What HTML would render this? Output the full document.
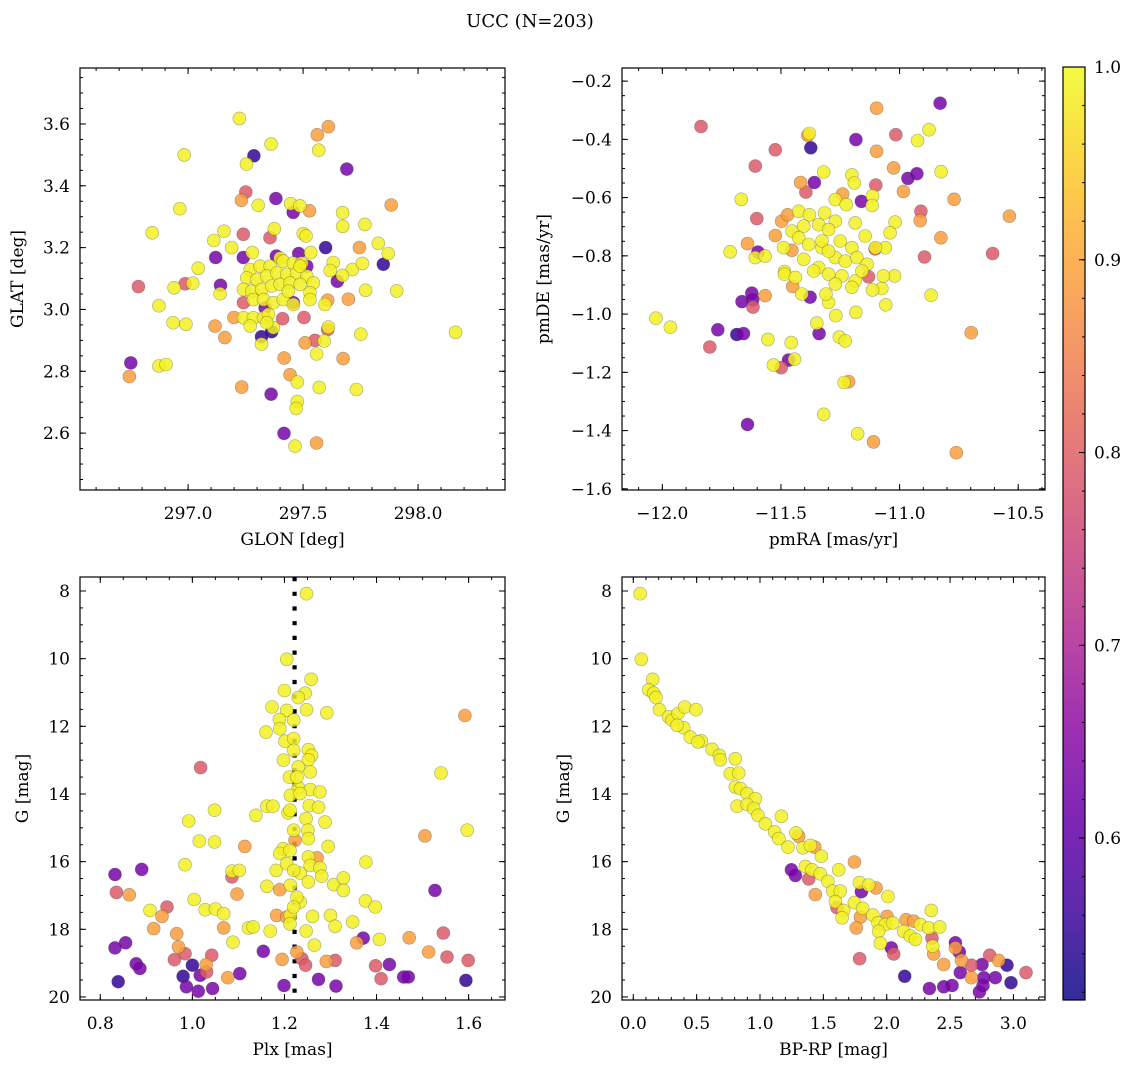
<!DOCTYPE html>
<html><head><meta charset="utf-8"><title>UCC (N=203)</title>
<style>
html,body{margin:0;padding:0;background:#fff;}
svg{display:block;font-family:"DejaVu Serif","Liberation Serif",serif;}
</style></head>
<body>
<svg id="fig" width="1136" height="1067" viewBox="0 0 1136 1067" xmlns="http://www.w3.org/2000/svg">
<text x="530" y="27" font-size="18" text-anchor="middle" fill="#000">UCC (N=203)</text>
</svg>
<script>
// ---------- Panel A: GLON vs GLAT ----------
const glonA = [297.223,297.610,297.562,297.361,297.286,297.568,297.254,296.983,297.690,297.251,297.232,297.382,297.305,297.446,297.486,297.457,297.528,296.964,297.883,297.672,297.672,297.769,296.844,297.156,297.112,297.240,297.356,297.375,297.501,297.513,297.598,297.745,297.827,297.870,297.189,297.279,297.240,297.120,297.384,297.481,297.533,297.849,297.631,297.044,297.714,297.758,297.671,297.618,297.649,296.784,296.939,296.987,297.020,297.141,297.139,297.772,297.907,297.697,297.607,297.595,296.873,296.935,296.991,297.117,297.160,297.199,297.411,297.504,297.319,297.363,297.319,297.610,297.607,297.509,297.552,297.592,297.751,297.559,297.418,297.674,296.751,296.745,296.873,296.904,297.443,297.475,297.233,297.361,297.570,297.732,297.475,297.470,297.417,297.465,297.559,298.163,
297.270,297.313,297.357,297.400,297.414,297.458,297.494,297.255,297.299,297.342,297.386,297.429,297.472,297.516,297.545,297.241,297.277,297.320,297.364,297.400,297.443,297.487,297.530,297.284,297.328,297.371,297.414,297.458,297.241,297.284,297.328,297.349,297.371,297.342,297.270,297.487,297.436,297.530,297.241,297.458,297.335,297.516];
const glatA = [3.618,3.591,3.565,3.535,3.497,3.515,3.470,3.500,3.454,3.380,3.353,3.359,3.337,3.342,3.335,3.314,3.319,3.326,3.338,3.313,3.269,3.275,3.248,3.253,3.223,3.243,3.232,3.261,3.245,3.238,3.200,3.200,3.214,3.181,3.200,3.184,3.168,3.168,3.173,3.181,3.184,3.146,3.152,3.133,3.129,3.149,3.110,3.126,3.091,3.074,3.070,3.083,3.085,3.078,3.051,3.062,3.060,3.033,3.030,3.016,3.012,2.957,2.952,2.946,2.909,2.974,2.970,2.974,2.912,2.928,2.888,2.943,2.935,2.892,2.900,2.898,2.920,2.856,2.843,2.841,2.827,2.783,2.817,2.822,2.789,2.765,2.749,2.726,2.748,2.741,2.702,2.680,2.599,2.558,2.568,2.926,
3.129,3.140,3.140,3.166,3.156,3.150,3.150,3.102,3.097,3.108,3.118,3.113,3.118,3.108,3.086,3.065,3.059,3.065,3.076,3.081,3.086,3.081,3.054,3.032,3.032,3.022,3.032,3.016,2.973,2.973,2.973,2.984,2.941,2.957,2.946,3.140,3.059,3.032,3.022,3.022,3.005,3.140];
const probA = [0.99,0.89,0.89,0.99,0.55,0.99,0.99,0.99,0.63,0.79,0.89,0.63,0.99,0.99,0.99,0.63,0.89,0.99,0.89,0.99,0.99,0.99,0.99,0.99,0.99,0.79,0.79,0.99,0.99,0.99,0.55,0.89,0.99,0.99,0.99,0.99,0.63,0.63,0.63,0.63,0.99,0.55,0.99,0.99,0.99,0.99,0.99,0.99,0.63,0.79,0.99,0.79,0.99,0.63,0.99,0.99,0.99,0.89,0.89,0.99,0.99,0.99,0.99,0.89,0.89,0.89,0.79,0.79,0.55,0.55,0.99,0.99,0.79,0.89,0.79,0.99,0.99,0.99,0.89,0.89,0.63,0.89,0.99,0.99,0.89,0.99,0.89,0.63,0.99,0.99,0.99,0.99,0.63,0.99,0.89,0.99,
0.99,0.99,0.99,0.99,0.99,0.99,0.99,0.99,0.99,0.99,0.99,0.99,0.99,0.99,0.99,0.99,0.99,0.99,0.99,0.99,0.99,0.99,0.99,0.99,0.99,0.99,0.99,0.99,0.99,0.99,0.99,0.99,0.99,0.99,0.99,0.99,0.99,0.99,0.79,0.63,0.63,0.63];

// ---------- Panel B: pmRA vs pmDE ----------
const pmraB = [-11.837,-11.097,-10.829,-11.387,-11.380,-11.374,-11.184,-11.016,-10.876,-10.924,-11.524,-11.097,-11.608,-11.320,-11.359,-11.417,-11.395,-11.201,-11.191,-11.100,-11.025,-10.965,-10.927,-10.825,-10.984,-10.770,-10.537,-11.667,-11.240,-11.271,-11.161,-11.114,-11.116,-11.225,-10.910,-10.913,-11.019,-11.040,-10.826,-10.608,-10.895,-11.602,-11.497,-11.472,-11.524,-11.641,-11.714,-11.597,-11.608,-11.567,-11.489,-11.454,-11.060,-11.103,-11.485,-11.485,-11.451,-11.412,-11.377,-11.567,-11.623,-11.664,-11.618,-11.619,-12.027,-11.966,-11.766,-11.686,-11.658,-11.800,-11.555,-11.457,-11.468,-11.499,-11.532,-11.443,-11.349,-11.339,-11.254,-11.229,-11.269,-11.299,-11.310,-11.184,-11.215,-11.234,-10.867,-11.058,-11.075,-11.114,-11.021,-11.068,-11.131,-10.698,-11.320,-11.641,-11.177,-11.110,-10.761,
-11.425,-11.380,-11.316,-11.271,-11.187,-11.453,-11.404,-11.341,-11.299,-11.250,-11.201,-11.145,-11.102,-11.425,-11.383,-11.327,-11.271,-11.229,-11.180,-11.137,-11.404,-11.341,-11.299,-11.243,-11.187,-11.159,-11.439,-11.362,-11.271,-11.201,-11.327,-11.299];
const pmdeB = [-0.356,-0.293,-0.276,-0.386,-0.380,-0.429,-0.401,-0.384,-0.367,-0.404,-0.436,-0.441,-0.492,-0.512,-0.548,-0.548,-0.581,-0.522,-0.550,-0.557,-0.498,-0.534,-0.518,-0.511,-0.579,-0.606,-0.664,-0.606,-0.588,-0.607,-0.613,-0.594,-0.627,-0.624,-0.647,-0.679,-0.684,-0.721,-0.738,-0.792,-0.804,-0.672,-0.681,-0.659,-0.730,-0.758,-0.786,-0.787,-0.806,-0.801,-0.772,-0.781,-0.772,-0.776,-0.854,-0.863,-0.905,-0.931,-0.942,-0.937,-0.928,-0.957,-0.976,-0.951,-1.014,-1.045,-1.054,-1.070,-1.067,-1.113,-1.087,-1.098,-1.158,-1.184,-1.175,-1.155,-1.031,-1.067,-1.079,-1.092,-1.005,-0.960,-0.931,-0.994,-1.232,-1.235,-0.935,-0.968,-0.912,-0.917,-0.869,-0.869,-0.872,-1.064,-1.344,-1.379,-1.411,-1.439,-1.476,
-0.647,-0.659,-0.653,-0.681,-0.687,-0.715,-0.698,-0.693,-0.710,-0.749,-0.772,-0.732,-0.772,-0.738,-0.761,-0.772,-0.806,-0.818,-0.806,-0.829,-0.812,-0.840,-0.863,-0.869,-0.886,-0.852,-0.874,-0.852,-0.897,-0.908,-0.749,-0.784];
const probB = [0.79,0.89,0.63,0.89,0.99,0.55,0.63,0.79,0.99,0.99,0.79,0.89,0.79,0.99,0.63,0.89,0.79,0.99,0.99,0.79,0.89,0.63,0.63,0.99,0.89,0.89,0.89,0.99,0.89,0.99,0.63,0.99,0.99,0.99,0.79,0.89,0.99,0.99,0.89,0.79,0.79,0.79,0.89,0.89,0.89,0.89,0.99,0.63,0.99,0.99,0.99,0.89,0.99,0.79,0.99,0.99,0.89,0.99,0.63,0.89,0.63,0.63,0.79,0.63,0.99,0.99,0.63,0.55,0.63,0.79,0.99,0.99,0.63,0.79,0.99,0.99,0.99,0.63,0.99,0.99,0.99,0.99,0.99,0.99,0.89,0.99,0.99,0.99,0.99,0.99,0.99,0.99,0.79,0.89,0.99,0.63,0.99,0.89,0.89,
0.99,0.99,0.99,0.99,0.99,0.99,0.99,0.99,0.99,0.99,0.99,0.99,0.99,0.99,0.99,0.99,0.99,0.99,0.99,0.99,0.99,0.99,0.99,0.99,0.99,0.99,0.99,0.99,0.99,0.99,0.99,0.99];

// ---------- Panel C: Plx vs G ----------
const plxC = [1.248,1.205,1.258,1.200,1.245,1.230,1.173,1.205,1.248,1.292,1.592,1.189,1.220,1.190,1.160,1.201,1.220,1.252,1.259,1.198,1.252,1.018,1.230,1.256,1.211,1.540,1.230,1.256,1.277,1.213,1.162,1.175,1.208,1.254,1.274,1.048,1.138,0.992,1.247,1.288,1.251,1.252,1.505,1.597,1.015,1.048,1.114,1.197,1.223,1.295,1.190,1.252,1.271,1.377,0.984,0.832,0.890,1.086,1.086,1.102,1.182,1.234,1.256,1.277,1.281,1.252,1.307,1.328,1.328,1.162,1.190,1.213,1.527,0.835,0.863,1.097,1.234,1.004,1.376,1.397,0.908,0.945,0.934,1.028,1.050,1.068,1.183,1.205,1.213,1.261,1.300,1.348,1.310,0.916,1.068,1.122,1.132,1.169,1.247,0.966,1.371,1.357,1.406,1.471,1.545,1.088,1.265,0.832,0.855,0.970,0.984,1.042,1.154,1.195,1.227,1.238,1.246,1.291,1.310,1.513,1.553,1.599,0.878,0.886,0.961,1.000,1.030,1.017,1.031,0.980,1.077,1.103,0.839,0.987,1.013,1.044,1.199,1.274,1.312,1.398,1.428,1.410,1.459,1.469,1.594,
1.220,1.227,1.234,1.212,1.220,1.212,1.205,1.220,1.227,1.220,1.212];
const gmagC = [8.08,10.02,10.61,10.94,11.02,11.15,11.43,11.53,11.51,11.60,11.68,11.80,11.82,12.07,12.17,12.44,12.36,12.69,12.86,13.00,12.99,13.22,13.20,13.35,13.50,13.38,13.81,13.87,13.94,14.04,14.36,14.36,14.56,14.34,14.39,14.48,14.63,14.80,14.73,14.83,15.07,15.32,15.24,15.07,15.39,15.42,15.55,15.62,15.37,15.55,15.76,15.86,15.89,16.01,16.09,16.38,16.23,16.45,16.28,16.26,16.26,16.34,16.11,16.18,16.43,16.60,16.68,16.48,16.85,16.73,16.83,16.70,16.85,16.91,16.98,16.96,17.19,17.12,17.16,17.34,17.44,17.34,17.62,17.42,17.40,17.54,17.59,17.64,17.59,17.62,17.59,17.78,17.91,17.98,17.96,17.96,17.93,18.05,18.05,18.13,18.26,18.40,18.30,18.25,18.11,18.38,18.47,18.55,18.40,18.52,18.72,18.77,18.65,18.89,18.67,18.87,19.06,18.95,18.92,18.67,18.82,18.92,19.02,19.16,18.90,19.06,19.04,19.36,19.26,19.39,19.43,19.31,19.55,19.70,19.83,19.75,19.66,19.48,19.68,19.08,19.04,19.46,19.41,19.41,19.51,
12.71,13.50,13.99,14.48,15.07,15.67,16.06,16.26,17.05,17.34,17.84];
const probC = [0.99,0.99,0.99,0.99,0.99,0.99,0.99,0.99,0.99,0.99,0.89,0.99,0.99,0.99,0.99,0.99,0.99,0.99,0.99,0.99,0.99,0.79,0.99,0.99,0.99,0.99,0.99,0.99,0.99,0.99,0.99,0.99,0.99,0.99,0.99,0.99,0.99,0.99,0.99,0.99,0.99,0.99,0.89,0.99,0.99,0.99,0.89,0.99,0.89,0.99,0.99,0.99,0.89,0.99,0.99,0.63,0.63,0.79,0.99,0.99,0.99,0.99,0.99,0.99,0.99,0.99,0.99,0.99,0.99,0.99,0.89,0.99,0.63,0.79,0.89,0.89,0.99,0.99,0.99,0.99,0.99,0.79,0.89,0.99,0.99,0.99,0.89,0.89,0.99,0.99,0.99,0.99,0.99,0.89,0.89,0.99,0.99,0.99,0.99,0.89,0.63,0.89,0.99,0.89,0.79,0.99,0.99,0.63,0.63,0.89,0.79,0.79,0.63,0.89,0.89,0.79,0.79,0.89,0.79,0.89,0.79,0.79,0.63,0.63,0.79,0.55,0.89,0.63,0.79,0.55,0.89,0.63,0.55,0.63,0.63,0.63,0.63,0.63,0.63,0.79,0.63,0.79,0.63,0.63,0.55,
0.99,0.99,0.99,0.99,0.99,0.99,0.99,0.99,0.99,0.99,0.99];
const plxLine = 1.222;

// ---------- Panel D: BP-RP vs G ----------
const bprpD = [0.055,0.063,0.153,0.122,0.161,0.179,0.206,0.279,0.306,0.353,0.406,0.495,0.398,0.345,0.450,0.537,0.511,0.622,0.679,0.687,0.805,0.766,0.832,0.805,0.845,0.898,0.963,0.819,0.898,0.950,0.984,1.043,1.169,1.115,1.148,1.221,1.284,1.305,1.339,1.398,1.432,1.484,1.358,1.410,1.248,1.279,1.384,1.476,1.536,1.621,1.745,1.436,1.574,1.634,1.595,1.608,1.660,1.648,1.745,1.784,1.800,1.858,1.916,2.010,1.792,1.810,1.760,1.890,1.931,2.002,1.989,1.936,1.950,2.047,2.036,2.055,1.786,2.133,2.152,2.212,2.186,2.226,2.266,2.331,2.352,2.418,2.357,2.363,2.371,2.450,2.542,2.542,2.573,2.590,2.668,2.581,2.668,2.752,2.766,2.813,2.883,2.949,2.857,2.981,3.099,2.142,2.337,2.450,2.516,2.731,2.760];
const gmagD = [8.08,10.02,10.61,10.92,11.02,11.15,11.51,11.72,11.82,11.62,11.43,11.51,12.04,11.97,12.32,12.43,12.46,12.68,12.86,12.99,12.96,13.40,13.38,13.79,13.84,13.99,14.14,14.36,14.31,14.43,14.63,14.88,14.66,15.12,15.32,15.57,15.15,15.25,15.59,15.52,15.57,15.84,16.14,16.24,16.24,16.41,16.51,16.36,16.58,16.24,16.01,16.97,16.87,16.87,17.18,17.36,17.44,17.66,17.21,16.62,16.89,16.69,16.78,17.03,17.64,17.38,17.96,17.58,17.81,17.62,17.86,18.06,18.41,17.81,18.55,18.73,18.87,18.06,17.72,17.76,18.20,18.30,17.86,17.96,17.44,17.93,18.26,18.50,18.73,19.04,18.40,18.55,18.67,18.92,19.06,19.28,19.43,19.04,19.43,18.77,18.92,19.06,19.43,19.58,19.28,19.39,19.75,19.70,19.66,19.85,19.66];
const probD = [0.99,0.99,0.99,0.99,0.99,0.99,0.99,0.99,0.99,0.99,0.99,0.99,0.99,0.99,0.99,0.99,0.99,0.99,0.99,0.99,0.99,0.99,0.99,0.99,0.99,0.99,0.99,0.99,0.99,0.99,0.99,0.99,0.99,0.99,0.99,0.99,0.99,0.89,0.99,0.99,0.89,0.99,0.99,0.99,0.63,0.63,0.79,0.99,0.99,0.99,0.89,0.89,0.99,0.99,0.99,0.79,0.99,0.99,0.99,0.99,0.63,0.99,0.89,0.99,0.89,0.99,0.89,0.99,0.99,0.89,0.99,0.99,0.99,0.99,0.63,0.79,0.79,0.99,0.89,0.89,0.99,0.99,0.99,0.99,0.99,0.99,0.79,0.99,0.89,0.89,0.63,0.89,0.63,0.89,0.79,0.63,0.89,0.63,0.63,0.79,0.89,0.55,0.63,0.55,0.79,0.55,0.63,0.63,0.63,0.63,0.63];

// ---------- Colorbar ----------
const cbarMin = 0.516, cbarMax = 1.0;
const cbarTicks = [0.6, 0.7, 0.8, 0.9, 1.0];

const NS = "http://www.w3.org/2000/svg";
const svg = document.getElementById('fig');
const FS = 17;
function mk(tag, attrs, parent) {
  const e = document.createElementNS(NS, tag);
  for (const k in attrs) e.setAttribute(k, attrs[k]);
  (parent || svg).appendChild(e);
  return e;
}
const plasmaStops = ["#0d0887","#41049d","#6a00a8","#8f0da4","#b12a90","#cc4778","#e16462","#f2844b","#fca636","#fcce25","#f0f921"];
function hex(c){return [parseInt(c.substr(1,2),16),parseInt(c.substr(3,2),16),parseInt(c.substr(5,2),16)];}
function plasma(t){
  t = Math.max(0, Math.min(1, t));
  const f = t*10, i = Math.min(9, Math.floor(f)), r = f - i;
  const a = hex(plasmaStops[i]), b = hex(plasmaStops[i+1]);
  return "rgb(" + a.map((v,k)=>Math.round(v+(b[k]-v)*r)).join(",") + ")";
}
function colorOf(p){ return plasma((p - cbarMin)/(cbarMax - cbarMin)); }
const fmt = (v, d) => { const s = v.toFixed(d); return s.startsWith("-") ? "\u2212" + s.slice(1) : s; };

function ticksFor(lo, hi, step) {
  const a = Math.min(lo, hi), b = Math.max(lo, hi), out = [];
  for (let k = Math.ceil(a/step - 1e-9); k*step <= b + 1e-9; k++) out.push(+(k*step).toFixed(6));
  return out;
}

function panel(c) {
  const g = mk('g', {});
  
  
  const sx = v => c.x0 + (v - c.dx0)/(c.dx1 - c.dx0)*(c.x1 - c.x0);
  const sy = v => c.y0 + (v - c.dyTop)/(c.dyBot - c.dyTop)*(c.y1 - c.y0);
  const clipId = c.name + '-clip';
  const cp = mk('clipPath', {id: clipId}, g);
  mk('rect', {x: c.x0, y: c.y0, width: c.x1 - c.x0, height: c.y1 - c.y0}, cp);
  const pts = mk('g', {'clip-path': 'url(#' + clipId + ')'}, g);
  
  
  if (c.vline !== undefined) {
    const ln = mk('line', {x1: sx(c.vline), x2: sx(c.vline), y1: c.y0, y2: c.y1, stroke: '#000', 'stroke-width': 4.2, 'stroke-dasharray': '4.2 10.5'}, pts);
    
    
  }
  const idx = c.xs.map((_, i) => i).sort((a, b) => c.ps[a] - c.ps[b]);
  for (const i of idx) {
    const cc = mk('circle', {cx: sx(c.xs[i]).toFixed(1), cy: sy(c.ys[i]).toFixed(1), r: 6.5, fill: colorOf(c.ps[i]), 'fill-opacity': 0.85, stroke: '#333', 'stroke-opacity': 0.4, 'stroke-width': 0.6});
    
    
  }
  const fr = mk('rect', {x: c.x0, y: c.y0, width: c.x1 - c.x0, height: c.y1 - c.y0, fill: 'none', stroke: '#000', 'stroke-width': 1.2}, g);
  
  
  const tg = mk('g', {stroke: '#000', 'stroke-width': 1}, g);
  ticksFor(c.dx0, c.dx1, c.minX).forEach(v => { const x = sx(v); mk('line',{x1:x,x2:x,y1:c.y1,y2:c.y1-3},tg); mk('line',{x1:x,x2:x,y1:c.y0,y2:c.y0+3},tg); });
  ticksFor(c.dyTop, c.dyBot, c.minY).forEach(v => { const y = sy(v); mk('line',{x1:c.x0,x2:c.x0+3,y1:y,y2:y},tg); mk('line',{x1:c.x1,x2:c.x1-3,y1:y,y2:y},tg); });
  ticksFor(c.dx0, c.dx1, c.majX).forEach(v => {
    const x = sx(v); mk('line',{x1:x,x2:x,y1:c.y1,y2:c.y1-6},tg); mk('line',{x1:x,x2:x,y1:c.y0,y2:c.y0+6},tg);
    const t = mk('text', {x: x, y: c.y1 + 29, 'font-size': FS, 'text-anchor': 'middle', fill: '#000'}, g);
    t.textContent = fmt(v, c.dX);
    
    
  });
  ticksFor(c.dyTop, c.dyBot, c.majY).forEach(v => {
    const y = sy(v); mk('line',{x1:c.x0,x2:c.x0+6,y1:y,y2:y},tg); mk('line',{x1:c.x1,x2:c.x1-6,y1:y,y2:y},tg);
    const t = mk('text', {x: c.x0 - 10, y: y + 6, 'font-size': FS, 'text-anchor': 'end', fill: '#000'}, g);
    t.textContent = fmt(v, c.dY);
    
    
  });
  const xl = mk('text', {x: (c.x0 + c.x1)/2, y: c.y1 + 55, 'font-size': FS, 'text-anchor': 'middle', fill: '#000'}, g);
  xl.textContent = c.xlabel;
  
  
  const yc = (c.y0 + c.y1)/2;
  const yl = mk('text', {x: c.ylx, y: yc, 'font-size': FS, 'text-anchor': 'middle', fill: '#000', transform: 'rotate(-90 ' + c.ylx + ' ' + yc + ')'}, g);
  yl.textContent = c.ylabel;
  
  
}

panel({name:'glon-glat-panel', x0:80, x1:505, y0:68, y1:490, dx0:296.530, dx1:298.378, dyTop:3.781, dyBot:2.416,
  majX:0.5, minX:0.1, majY:0.2, minY:0.05, dX:1, dY:1, xs:glonA, ys:glatA, ps:probA, xlabel:'GLON [deg]', ylabel:'GLAT [deg]', ylx:23});
panel({name:'pm-panel', x0:622, x1:1045, y0:68, y1:490, dx0:-12.170, dx1:-10.387, dyTop:-0.155, dyBot:-1.604,
  majX:0.5, minX:0.1, majY:0.2, minY:0.05, dX:1, dY:1, xs:pmraB, ys:pmdeB, ps:probB, xlabel:'pmRA [mas/yr]', ylabel:'pmDE [mas/yr]', ylx:549});
panel({name:'plx-g-panel', x0:80, x1:505, y0:577, y1:1000, dx0:0.756, dx1:1.679, dyTop:7.586, dyBot:20.09,
  majX:0.2, minX:0.05, majY:2, minY:0.5, dX:1, dY:0, xs:plxC, ys:gmagC, ps:probC, xlabel:'Plx [mas]', ylabel:'G [mag]', ylx:28, vline:plxLine});
panel({name:'cmd-panel', x0:622, x1:1045, y0:577, y1:1000, dx0:-0.089, dx1:3.249, dyTop:7.586, dyBot:20.09,
  majX:0.5, minX:0.1, majY:2, minY:0.5, dX:1, dY:0, xs:bprpD, ys:gmagD, ps:probD, xlabel:'BP-RP [mag]', ylabel:'G [mag]', ylx:569});

(function(){
  const x0 = 1063, x1 = 1085, y0 = 67, y1 = 1000;
  const g = mk('g', {});
  
  
  const defs = mk('defs', {}, g);
  const lg = mk('linearGradient', {id: 'cbgrad', x1: 0, y1: 1, x2: 0, y2: 0}, defs);
  for (let i = 0; i <= 20; i++) mk('stop', {offset: (i/20).toFixed(3), 'stop-color': plasma(i/20)}, lg);
  mk('rect', {x: x0, y: y0, width: x1 - x0, height: y1 - y0, fill: 'url(#cbgrad)', 'fill-opacity': 0.85}, g);
  mk('rect', {x: x0, y: y0, width: x1 - x0, height: y1 - y0, fill: 'none', stroke: '#000', 'stroke-width': 1.2}, g);
  const sy = v => y0 + (cbarMax - v)/(cbarMax - cbarMin)*(y1 - y0);
  ticksFor(cbarMin, cbarMax, 0.02).forEach(v => { const y = sy(v); mk('line',{x1:x1,x2:x1-3,y1:y,y2:y,stroke:'#000','stroke-width':1},g); });
  cbarTicks.forEach(v => {
    const y = sy(v);
    mk('line',{x1:x1,x2:x1-6,y1:y,y2:y,stroke:'#000','stroke-width':1},g);
    const t = mk('text', {x: x1 + 9, y: y + 6, 'font-size': FS, fill: '#000'}, g);
    t.textContent = v.toFixed(1);
    
    
  });
})();
</script>
</body></html>
